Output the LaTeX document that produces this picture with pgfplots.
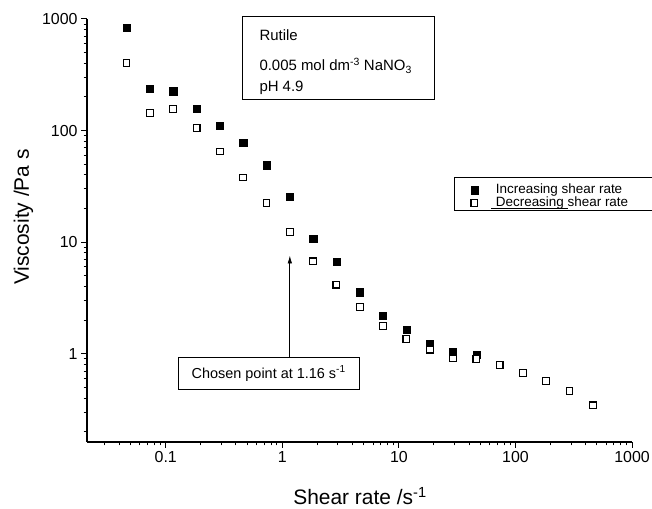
\documentclass[border=0pt]{standalone}
\usepackage{fontspec}
\setmainfont{Liberation Sans}
\usepackage{pgfplots}
\pgfplotsset{compat=1.18}
\usetikzlibrary{arrows.meta}

% Viscosity of rutile dispersions vs. shear rate (up and down sweeps)
\begin{document}
\begin{tikzpicture}[x=1bp,y=1bp]
\begin{axis}[
  at={(0,0)}, anchor=south west,
  scale only axis, width=545bp, height=423bp,
  xmode=log, ymode=log,
  xmin=0.0211, xmax=1000, ymin=0.162, ymax=1000,
  axis x line*=bottom, axis y line*=left,
  axis line style={line width=1.2bp, -},
  tick align=outside,
  major tick length=6bp, minor tick length=3.5bp,
  every tick/.style={line width=1bp, black},
  xtick={0.1,1,10,100,1000}, xticklabels={0.1,1,10,100,1000},
  ytick={1,10,100,1000}, yticklabels={1,10,100,1000},
  minor xtick={0.03,0.04,0.05,0.06,0.07,0.08,0.09,
               0.2,0.3,0.4,0.5,0.6,0.7,0.8,0.9,
               2,3,4,5,6,7,8,9,20,30,40,50,60,70,80,90,
               200,300,400,500,600,700,800,900},
  minor ytick={0.2,0.3,0.4,0.5,0.6,0.7,0.8,0.9,
               2,3,4,5,6,7,8,9,20,30,40,50,60,70,80,90,
               200,300,400,500,600,700,800,900},
  ticklabel style={font=\fontsize{16}{16}\selectfont},
  clip=false,
  legend image code/.code={%
    \path[draw=none, fill=none] (0bp,-2bp) rectangle (30bp,2bp);
    \draw[#1] plot coordinates {(10.5bp,0bp)};},
  legend style={at={(rel axis cs:0.6912,0.6111)}, anchor=north west,
    draw=none, fill=none, inner sep=0pt, row sep=0bp,
    font=\fontsize{13.5}{14}\selectfont,
    nodes={inner ysep=0.2bp, text height=9.6bp, text depth=3bp}},
  legend cell align=left,
]
% increasing shear rate
\addplot[only marks, mark=square*, mark size=3.6bp, black] coordinates {
  (0.046,829) (0.073,238) (0.116,225) (0.184,157) (0.291,111)
  (0.462,78.1) (0.732,49.0) (1.16,25.4) (1.84,10.7) (2.91,6.73)
  (4.62,3.56) (7.32,2.21) (11.6,1.65) (18.4,1.23) (29.1,1.05)
  (46.2,0.98)
};
\addlegendentry{Increasing shear rate}
% decreasing shear rate
\addplot[only marks, mark=square*, mark size=3.4bp, black,
  mark options={fill=white, line width=1.1bp}] coordinates {
  (0.046,403) (0.073,143) (0.116,157) (0.184,106) (0.291,64.9)
  (0.462,38.0) (0.732,22.4) (1.16,12.3) (1.84,6.73) (2.91,4.17)
  (4.62,2.63) (7.32,1.77) (11.6,1.36) (18.4,1.09) (29.1,0.908)
  (46.2,0.902) (73.2,0.797) (116,0.670) (184,0.569) (291,0.463)
  (462,0.345)
};
\addlegendentry{\makebox[0pt][l]{\hspace{-4.7bp}\rule[-2.5bp]{76.7bp}{0.7bp}}Decreasing shear rate}
% arrow to the chosen point
\draw[-{Latex[length=8bp,width=4.5bp]}, line width=0.8bp]
  (axis cs:1.16,0.93) -- (axis cs:1.16,7.6);
\end{axis}

% legend frame
\draw[line width=0.8bp] (367,231.3) rectangle (565,264.3);

% axis titles
\node[anchor=base, font=\fontsize{21}{21}\selectfont] at (273,-63)
  {Shear rate /s\textsuperscript{-1}};
\node[anchor=base, rotate=90, font=\fontsize{21}{21}\selectfont] at (-58,225)
  {Viscosity /Pa s};

% sample conditions
\draw[line width=0.9bp] (155.7,342.7) rectangle (347.3,426);
\begin{scope}[every node/.style={anchor=base west, inner sep=0pt,
    font=\fontsize{15}{15}\selectfont}]
  \node at (172.3,401) {Rutile};
  \node at (172.3,371) {0.005 mol dm\textsuperscript{-3} NaNO\textsubscript{3}};
  \node at (172.3,350) {pH 4.9};
\end{scope}

% annotation of the chosen point
\draw[line width=0.9bp] (91.3,52.7) rectangle (272,84.3);
\node[font=\fontsize{14.5}{14.5}\selectfont] at (181.7,68.5)
  {Chosen point at 1.16 s\textsuperscript{-1}};

\pgfresetboundingbox
\path[use as bounding box] (-87,-67) rectangle (565,442);
\end{tikzpicture}
\end{document}
